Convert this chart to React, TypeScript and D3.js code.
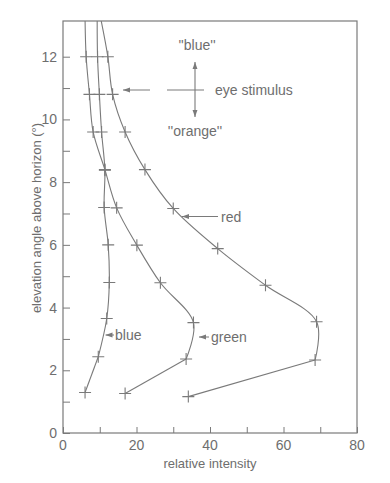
import React, { useEffect, useRef } from 'react';
import * as d3 from 'd3';

// readings: relative intensity (x) vs elevation in degrees (y)
const blueElev = [1.29, 2.43, 3.65, 4.8, 6.0, 7.19, 8.38, 9.6, 10.8, 12.0, 13.2];
const blueVals = [6.0, 9.6, 11.9, 12.6, 12.3, 11.2, 11.4, 10.5, 9.9, 9.4, 9.3];
const greenElev = [1.26, 2.36, 3.52, 4.79, 5.99, 7.18, 8.4, 9.6, 10.8, 12.0, 13.2];
const greenVals = [16.9, 33.5, 35.5, 26.5, 20.1, 14.6, 11.4, 8.2, 7.2, 6.3, 6.0];
const redElev = [1.16, 2.33, 3.55, 4.71, 5.88, 7.16, 8.4, 9.6, 10.8, 12.0, 13.2];
const redVals = [34.1, 68.6, 69.0, 55.1, 42.1, 30.0, 22.3, 16.9, 13.5, 12.2, 10.3];
// last entry of each series only carries the line up to the frame, no cross
const markedCount = 10;

const xTickLabels = [0, 20, 40, 60, 80];
const yTickLabels = [0, 2, 4, 6, 8, 10, 12];

const W = 390, H = 483;
const margin = { top: 21, right: 33, bottom: 50, left: 63 };
const ink = '#7a7a7a';
const txt = '#6e6e6e';
const font = '"Liberation Sans", Arial, sans-serif';

export default function App() {
  const ref = useRef<SVGSVGElement>(null);

  useEffect(() => {
    const svg = d3.select(ref.current);
    svg.selectAll('*').remove();

    const x = d3.scaleLinear().domain([0, 80]).range([margin.left, W - margin.right]);
    const y = d3.scaleLinear().domain([0, 12]).range([H - margin.bottom, 56.7]);
    const top = margin.top;

    const defs = svg.append('defs');
    defs.append('clipPath').attr('id', 'plotclip')
      .append('rect')
      .attr('x', x(0)).attr('y', top)
      .attr('width', x(80) - x(0)).attr('height', y(0) - top);
    defs.append('marker')
      .attr('id', 'head')
      .attr('viewBox', '0 0 10 10')
      .attr('refX', 10).attr('refY', 5)
      .attr('markerWidth', 7).attr('markerHeight', 7)
      .attr('markerUnits', 'userSpaceOnUse')
      .attr('orient', 'auto-start-reverse')
      .append('path').attr('d', 'M0,1.5L10,5L0,8.5Z').attr('fill', ink);

    // frame
    svg.append('rect')
      .attr('x', x(0)).attr('y', top)
      .attr('width', x(80) - x(0)).attr('height', y(0) - top)
      .attr('fill', 'none').attr('stroke', ink).attr('stroke-width', 1.2);

    // y ticks (inward), every degree
    const yAxis = d3.axisRight(y).tickValues(d3.range(0, 13)).tickSize(7).tickFormat(() => '');
    const gy = svg.append('g').attr('transform', `translate(${x(0)},0)`).call(yAxis);
    gy.select('.domain').remove();
    gy.selectAll('line').attr('stroke', ink);

    svg.append('g').selectAll('text').data(yTickLabels).join('text')
      .attr('x', x(0) - 6).attr('y', d => y(d) + 5)
      .attr('text-anchor', 'end')
      .attr('font-family', font).attr('font-size', 14).attr('fill', txt)
      .text(d => d);

    // x ticks (inward), every 10
    const xAxis = d3.axisTop(x).tickValues(d3.range(0, 81, 10)).tickSize(6).tickFormat(() => '');
    const gx = svg.append('g').attr('transform', `translate(0,${y(0)})`).call(xAxis);
    gx.select('.domain').remove();
    gx.selectAll('line').attr('stroke', ink);

    svg.append('g').selectAll('text').data(xTickLabels).join('text')
      .attr('x', d => x(d)).attr('y', y(0) + 17)
      .attr('text-anchor', 'middle')
      .attr('font-family', font).attr('font-size', 14).attr('fill', txt)
      .text(d => d);

    svg.append('text')
      .attr('x', (x(0) + x(80)) / 2).attr('y', H - 15)
      .attr('text-anchor', 'middle')
      .attr('font-family', font).attr('font-size', 13).attr('fill', txt)
      .text('relative intensity');

    svg.append('text')
      .attr('transform', `translate(41,${218}) rotate(-90)`)
      .attr('text-anchor', 'middle')
      .attr('font-family', font).attr('font-size', 13).attr('fill', txt)
      .text('elevation angle above horizon (°)');

    // curves: straight first leg, smooth from the second reading upwards
    const series = [
      { elev: blueElev, vals: blueVals },
      { elev: greenElev, vals: greenVals },
      { elev: redElev, vals: redVals },
    ];
    const smooth = d3.line<[number, number]>()
      .x(d => x(d[0])).y(d => y(d[1]))
      .curve(d3.curveCatmullRom.alpha(0.5));
    const straight = d3.line<[number, number]>()
      .x(d => x(d[0])).y(d => y(d[1]));

    const plot = svg.append('g').attr('clip-path', 'url(#plotclip)');
    series.forEach(s => {
      const pts: [number, number][] = s.vals.map((v, i) => [v, s.elev[i]]);
      plot.append('path')
        .attr('d', straight(pts.slice(0, 2)))
        .attr('fill', 'none').attr('stroke', ink).attr('stroke-width', 1.1);
      plot.append('path')
        .attr('d', smooth(pts.slice(1)))
        .attr('fill', 'none').attr('stroke', ink).attr('stroke-width', 1.1);
      plot.append('g').selectAll('path').data(pts.slice(0, markedCount)).join('path')
        .attr('d', d => {
          const cx = x(d[0]), cy = y(d[1]);
          return `M${cx - 6},${cy}H${cx + 6}M${cx},${cy - 6}V${cy + 6}`;
        })
        .attr('stroke', ink).attr('stroke-width', 1.1);
    });

    // curve labels with pointers
    const labels = [
      { text: 'blue', tx: 115, ty: 340, x1: 114, y1: 335, x2: 105.5, y2: 335 },
      { text: 'green', tx: 211, ty: 342, x1: 209, y1: 337, x2: 199, y2: 337 },
      { text: 'red', tx: 221, ty: 221.5, x1: 218, y1: 216.5, x2: 182, y2: 216.5 },
    ];
    labels.forEach(l => {
      svg.append('line')
        .attr('x1', l.x1).attr('y1', l.y1).attr('x2', l.x2).attr('y2', l.y2)
        .attr('stroke', ink).attr('stroke-width', 1).attr('marker-end', 'url(#head)');
      svg.append('text')
        .attr('x', l.tx).attr('y', l.ty)
        .attr('font-family', font).attr('font-size', 14).attr('fill', txt)
        .text(l.text);
    });

    // eye stimulus key
    const key = svg.append('g');
    key.append('line').attr('x1', 167).attr('y1', 90).attr('x2', 204).attr('y2', 90)
      .attr('stroke', ink).attr('stroke-width', 1.1);
    key.append('line').attr('x1', 195).attr('y1', 62).attr('x2', 195).attr('y2', 117)
      .attr('stroke', ink).attr('stroke-width', 1.1)
      .attr('marker-start', 'url(#head)').attr('marker-end', 'url(#head)');
    key.append('line').attr('x1', 150).attr('y1', 90).attr('x2', 123).attr('y2', 90)
      .attr('stroke', ink).attr('stroke-width', 1).attr('marker-end', 'url(#head)');
    key.append('text').attr('x', 197).attr('y', 50).attr('text-anchor', 'middle')
      .attr('font-family', font).attr('font-size', 14).attr('fill', txt).text("''blue''");
    key.append('text').attr('x', 195).attr('y', 136).attr('text-anchor', 'middle')
      .attr('font-family', font).attr('font-size', 14).attr('fill', txt).text("''orange''");
    key.append('text').attr('x', 215).attr('y', 95)
      .attr('font-family', font).attr('font-size', 14).attr('fill', txt).text('eye stimulus');
  }, []);

  return (
    <svg ref={ref} width={W} height={H}
      style={{ position: 'absolute', left: 0, top: 0, background: '#fff' }} />
  );
}
